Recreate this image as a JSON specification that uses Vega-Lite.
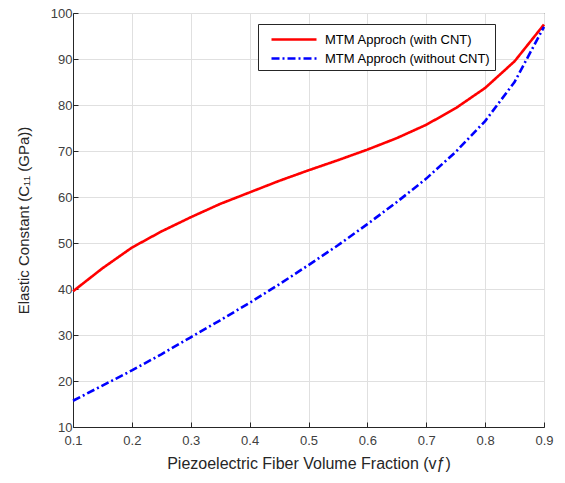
{
  "$schema": "https://vega.github.io/schema/vega-lite/v6.json",
  "width": 471,
  "height": 414,
  "autosize": "none",
  "padding": {"left": 73, "top": 13, "right": 21, "bottom": 56},
  "background": "white",
  "config": {
    "font": "Liberation Sans",
    "view": {"stroke": "#262626", "strokeWidth": 1},
    "axis": {
      "labelFont": "Liberation Sans",
      "titleFont": "Liberation Sans",
      "labelFontSize": 13,
      "titleFontSize": 15,
      "titleFontWeight": "normal",
      "labelColor": "#404040",
      "titleColor": "#262626",
      "domainColor": "#262626",
      "tickColor": "#262626",
      "tickSize": -5,
      "labelFlush": false,
      "gridColor": "#e0e0e0",
      "gridOpacity": 1
    }
  },
  "data": {
    "values": [
      {"vf": 0.1, "c11": 39.5, "series": "MTM Approch (with CNT)"},
      {"vf": 0.15, "c11": 44.5, "series": "MTM Approch (with CNT)"},
      {"vf": 0.2, "c11": 49.0, "series": "MTM Approch (with CNT)"},
      {"vf": 0.25, "c11": 52.5, "series": "MTM Approch (with CNT)"},
      {"vf": 0.3, "c11": 55.6, "series": "MTM Approch (with CNT)"},
      {"vf": 0.35, "c11": 58.5, "series": "MTM Approch (with CNT)"},
      {"vf": 0.4, "c11": 61.0, "series": "MTM Approch (with CNT)"},
      {"vf": 0.45, "c11": 63.5, "series": "MTM Approch (with CNT)"},
      {"vf": 0.5, "c11": 65.8, "series": "MTM Approch (with CNT)"},
      {"vf": 0.55, "c11": 68.0, "series": "MTM Approch (with CNT)"},
      {"vf": 0.6, "c11": 70.3, "series": "MTM Approch (with CNT)"},
      {"vf": 0.65, "c11": 72.8, "series": "MTM Approch (with CNT)"},
      {"vf": 0.7, "c11": 75.7, "series": "MTM Approch (with CNT)"},
      {"vf": 0.75, "c11": 79.3, "series": "MTM Approch (with CNT)"},
      {"vf": 0.8, "c11": 83.7, "series": "MTM Approch (with CNT)"},
      {"vf": 0.85, "c11": 89.5, "series": "MTM Approch (with CNT)"},
      {"vf": 0.9, "c11": 97.5, "series": "MTM Approch (with CNT)"},
      {"vf": 0.1, "c11": 15.7, "series": "MTM Approch (without CNT)"},
      {"vf": 0.15, "c11": 19.0, "series": "MTM Approch (without CNT)"},
      {"vf": 0.2, "c11": 22.3, "series": "MTM Approch (without CNT)"},
      {"vf": 0.25, "c11": 25.8, "series": "MTM Approch (without CNT)"},
      {"vf": 0.3, "c11": 29.5, "series": "MTM Approch (without CNT)"},
      {"vf": 0.35, "c11": 33.2, "series": "MTM Approch (without CNT)"},
      {"vf": 0.4, "c11": 37.0, "series": "MTM Approch (without CNT)"},
      {"vf": 0.45, "c11": 41.0, "series": "MTM Approch (without CNT)"},
      {"vf": 0.5, "c11": 45.2, "series": "MTM Approch (without CNT)"},
      {"vf": 0.55, "c11": 49.5, "series": "MTM Approch (without CNT)"},
      {"vf": 0.6, "c11": 54.1, "series": "MTM Approch (without CNT)"},
      {"vf": 0.65, "c11": 58.9, "series": "MTM Approch (without CNT)"},
      {"vf": 0.7, "c11": 64.0, "series": "MTM Approch (without CNT)"},
      {"vf": 0.75, "c11": 69.8, "series": "MTM Approch (without CNT)"},
      {"vf": 0.8, "c11": 76.5, "series": "MTM Approch (without CNT)"},
      {"vf": 0.85, "c11": 85.0, "series": "MTM Approch (without CNT)"},
      {"vf": 0.9, "c11": 97.0, "series": "MTM Approch (without CNT)"}
    ]
  },
  "mark": {"type": "line", "strokeWidth": 2.6, "interpolate": "linear"},
  "encoding": {
    "x": {
      "field": "vf", "type": "quantitative",
      "scale": {"domain": [0.1, 0.9], "nice": false, "zero": false},
      "axis": {"values": [0.1, 0.2, 0.3, 0.4, 0.5, 0.6, 0.7, 0.8, 0.9], "format": ".1f", "title": "Piezoelectric Fiber Volume Fraction (vƒ)", "titleFontSize": 16, "titlePadding": 8, "labelPadding": 12}
    },
    "y": {
      "field": "c11", "type": "quantitative",
      "scale": {"domain": [10, 100], "nice": false, "zero": false},
      "axis": {"values": [10, 20, 30, 40, 50, 60, 70, 80, 90, 100], "title": "Elastic Constant (C₁₁ (GPa))", "titlePadding": 19, "labelPadding": 6}
    },
    "color": {
      "field": "series", "type": "nominal",
      "scale": {"domain": ["MTM Approch (with CNT)", "MTM Approch (without CNT)"], "range": ["#ff0000", "#0000ff"]},
      "legend": {
        "title": null,
        "orient": "none",
        "legendX": 185,
        "legendY": 11,
        "direction": "vertical",
        "fillColor": "white",
        "strokeColor": "#262626",
        "padding": 4,
        "symbolType": "M-0.2,0H4.3",
        "symbolSize": 400,
        "symbolStrokeWidth": 2.6,
        "symbolFillColor": "transparent",
        "labelFont": "Liberation Sans",
        "labelFontSize": 13,
        "labelLimit": 400,
        "labelColor": "#000000",
        "labelOffset": 40,
        "rowPadding": 0
      }
    },
    "strokeDash": {
      "field": "series", "type": "nominal",
      "scale": {"domain": ["MTM Approch (with CNT)", "MTM Approch (without CNT)"], "range": [[1, 0], [8, 3, 2, 3]]},
      "legend": null
    }
  }
}
